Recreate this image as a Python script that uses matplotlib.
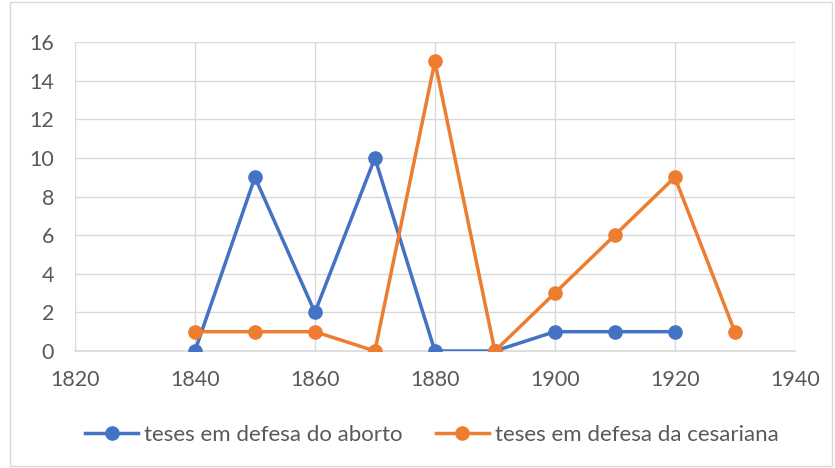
import matplotlib
matplotlib.use("Agg")
import matplotlib.pyplot as plt
from matplotlib.patches import Rectangle

# teses por década
anos_aborto = [1840, 1850, 1860, 1870, 1880, 1890, 1900, 1910, 1920]
aborto = [0, 9, 2, 10, 0, 0, 1, 1, 1]
anos_cesariana = [1840, 1850, 1860, 1870, 1880, 1890, 1900, 1910, 1920, 1930]
cesariana = [1, 1, 1, 0, 15, 0, 3, 6, 9, 1]

x_ticks = [1820, 1840, 1860, 1880, 1900, 1920, 1940]
y_ticks = [0, 2, 4, 6, 8, 10, 12, 14, 16]

blue = "#4472C4"
orange = "#ED7D31"
txt = "#595959"
grid = "#D9D9D9"

plt.rcParams["font.family"] = ["Lato", "DejaVu Sans"]

fig = plt.figure(figsize=(8.35, 4.68), dpi=100)
fig.patches.append(Rectangle((0.012, 0.005), 0.985, 0.99, transform=fig.transFigure,
                             fill=False, edgecolor=grid, lw=1))
ax = fig.add_axes([0.0898, 0.25, 0.862, 0.66])

ax.plot(anos_aborto, aborto, color=blue, lw=2.5, marker="o", ms=9.5,
        label="teses em defesa do aborto", zorder=3)
ax.plot(anos_cesariana, cesariana, color=orange, lw=2.5, marker="o", ms=9.5,
        label="teses em defesa da cesariana", zorder=3)

ax.set_xlim(1820, 1940)
ax.set_ylim(0, 16)
ax.set_xticks(x_ticks)
ax.set_yticks(y_ticks)
ax.grid(True, color=grid, lw=1)
ax.set_axisbelow(True)
for s in ["top", "right", "left"]:
    ax.spines[s].set_visible(False)
ax.spines["bottom"].set_color(grid)
ax.spines["bottom"].set_linewidth(1.2)
ax.tick_params(length=0, labelsize=15.5, labelcolor=txt)
ax.tick_params(axis="x", pad=14)
ax.tick_params(axis="y", pad=15)

leg = fig.legend(loc="center", bbox_to_anchor=(0.517, 0.07), ncol=2, frameon=False,
                 fontsize=16, labelcolor=txt, handlelength=2.4, handletextpad=0.25,
                 columnspacing=1.5)

fig.savefig("out.png", dpi=100)
